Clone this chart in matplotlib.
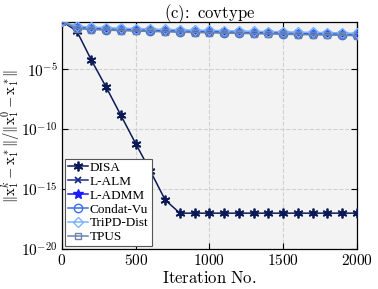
import numpy as np
import matplotlib
matplotlib.use('Agg')
import matplotlib.pyplot as plt

plt.rcParams['mathtext.fontset'] = 'cm'
plt.rcParams['font.family'] = 'serif'
plt.rcParams['font.serif'] = ['DejaVu Serif']

# iteraciones (marcadores cada 100)
iters = np.arange(0, 2001, 100)

# log10 del error relativo
disa = [-1.0, -1.8, -4.25, -6.5, -8.85, -11.2, -13.5, -15.9, -17.0, -17.0, -17.0,
        -17.0, -17.0, -17.0, -17.0, -17.0, -17.0, -17.0, -17.0, -17.0, -17.0]
lalm = [-1.0, -1.5, -1.58, -1.63, -1.67, -1.71, -1.74, -1.77, -1.8, -1.83, -1.85,
        -1.88, -1.9, -1.93, -1.95, -1.97, -2.0, -2.02, -2.04, -2.06, -2.1]
ladmm = [-1.0, -1.52, -1.6, -1.65, -1.69, -1.73, -1.76, -1.79, -1.82, -1.85, -1.87,
         -1.9, -1.92, -1.95, -1.97, -1.99, -2.02, -2.04, -2.06, -2.08, -2.12]
condat = [-1.0, -1.55, -1.63, -1.68, -1.72, -1.76, -1.79, -1.82, -1.85, -1.88, -1.9,
          -1.93, -1.95, -1.98, -2.0, -2.02, -2.05, -2.07, -2.09, -2.11, -2.15]
tripd = [-1.0, -1.4, -1.48, -1.53, -1.57, -1.61, -1.64, -1.67, -1.7, -1.73, -1.75,
         -1.78, -1.8, -1.83, -1.85, -1.87, -1.9, -1.92, -1.94, -1.96, -2.0]
tpus = [-1.0, -1.6, -1.68, -1.73, -1.77, -1.81, -1.84, -1.87, -1.9, -1.93, -1.95,
        -1.98, -2.0, -2.03, -2.05, -2.07, -2.1, -2.12, -2.14, -2.16, -2.2]

fig = plt.figure(figsize=(3.78, 2.89), dpi=100)
ax = fig.add_axes([0.164, 0.138, 0.780, 0.786])
ax.set_facecolor('#f3f3f3')

ax.semilogy(iters, np.power(10.0, disa), color='#0b1a56', lw=1.1,
            marker=(6, 2, 0), ms=7, mew=1.3, label='DISA', zorder=3)
ax.semilogy(iters, np.power(10.0, lalm), color='#1a2a8c', lw=1.1,
            marker='x', ms=5, mew=1.3, label='L-ALM', zorder=3)
ax.semilogy(iters, np.power(10.0, ladmm), color='#1a1aff', lw=1.1,
            marker='*', ms=7, label='L-ADMM', zorder=3)
ax.semilogy(iters, np.power(10.0, condat), color='#3a6ee8', lw=1.1,
            marker='o', ms=6, mfc='none', label='Condat-Vu', zorder=3)
ax.semilogy(iters, np.power(10.0, tripd), color='#79b4ff', lw=1.1,
            marker='D', ms=5, mfc='none', label='TriPD-Dist', zorder=3)
ax.semilogy(iters, np.power(10.0, tpus), color='#6b84a8', lw=1.1,
            marker='s', ms=5, mfc='none', label='TPUS', zorder=3)

ax.set_xlim(0, 2000)
ax.set_ylim(1e-20, 10 ** -1.05)
ax.set_xticks([0, 500, 1000, 1500, 2000])
ax.set_yticks([1e-20, 1e-15, 1e-10, 1e-5])
ax.set_yticklabels([r'$10^{-20}$', r'$10^{-15}$', r'$10^{-10}$', r'$10^{-5}$'])
ax.set_xticklabels([r'$0$', r'$500$', r'$1000$', r'$1500$', r'$2000$'])
ax.minorticks_off()
ax.tick_params(direction='in', top=True, right=True, labelsize=11, length=4, pad=3)
ax.grid(True, ls='--', color='#d0d0d0', lw=0.8)
for s in ax.spines.values():
    s.set_linewidth(0.9)

ax.set_xlabel(r'$\mathrm{Iteration\ No.}$', fontsize=12, labelpad=1)
ax.set_ylabel(r'$\|\mathrm{x}_1^k-\mathrm{x}_1^*\|/\|\mathrm{x}_1^0-\mathrm{x}_1^*\|$',
              fontsize=10.5)
ax.yaxis.set_label_coords(-0.135, 0.5)
ax.set_title(r'$\mathrm{(c)\!:\ covtype}$', fontsize=12, pad=3)

leg = ax.legend(loc='lower left', prop={'family': 'Liberation Serif', 'size': 9.5},
                handlelength=1.5, handletextpad=0.15, labelspacing=0.12,
                borderpad=0.25, borderaxespad=0.2, fancybox=False, framealpha=1)
leg.get_frame().set_edgecolor('#555555')
leg.get_frame().set_linewidth(0.8)

fig.savefig('out.png', dpi=100)
